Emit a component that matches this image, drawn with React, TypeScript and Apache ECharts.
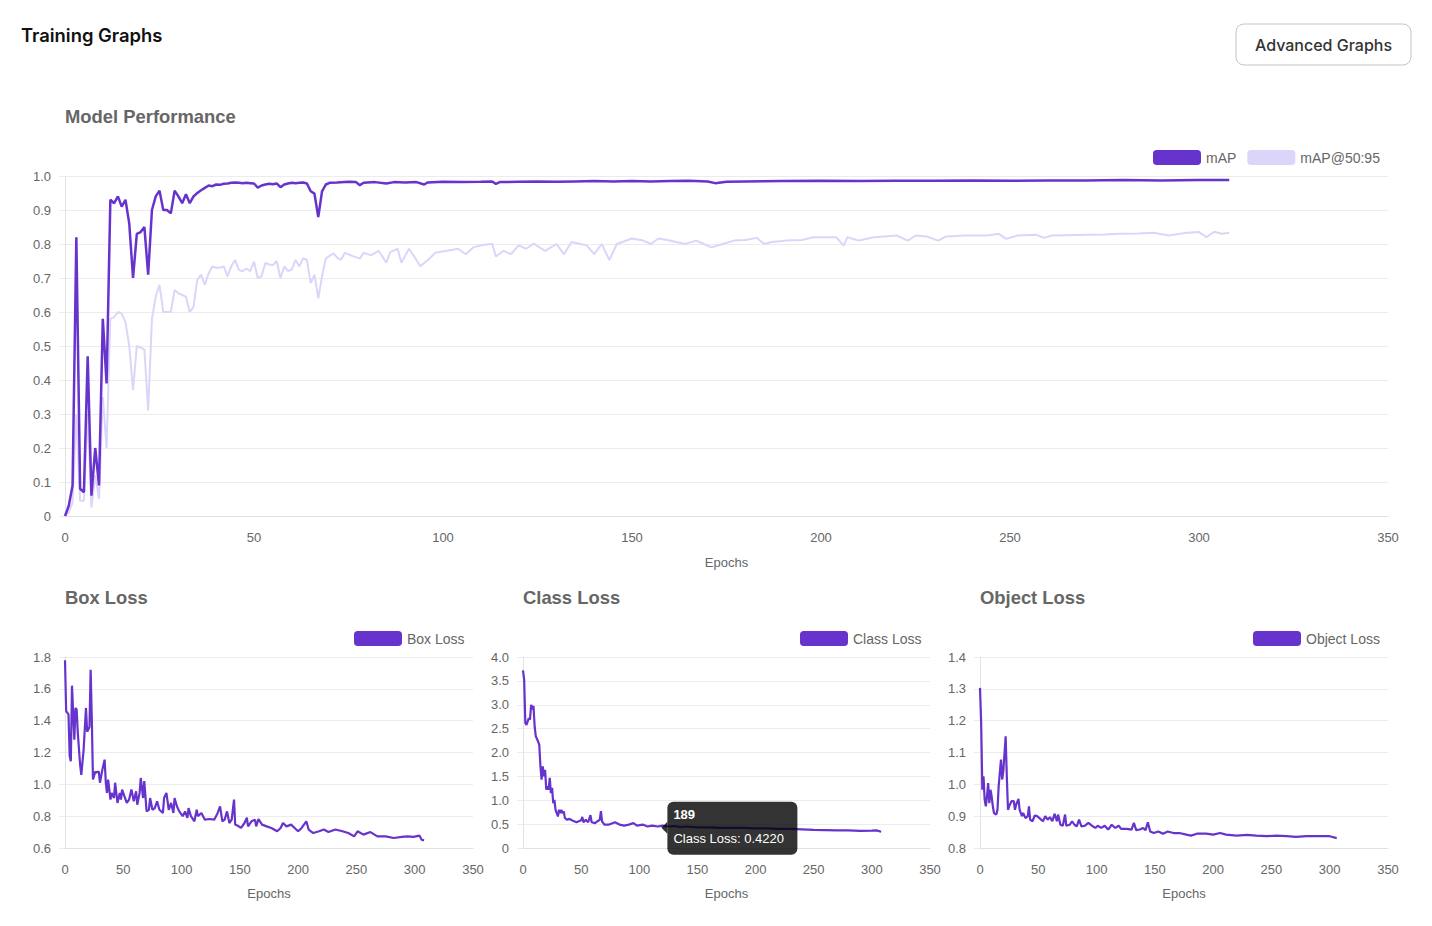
import React, { useEffect, useRef } from "react";
import * as echarts from "echarts";

type P = [number, number];

const epochTicks = { min: 0, max: 350, interval: 50 };

const mapData: P[] = [
  [0, 0], [1, 0.03], [2, 0.09], [3, 0.82], [4, 0.08], [5, 0.07], [6, 0.47], [7, 0.06], [8, 0.2], [9, 0.09],
  [10, 0.58], [11, 0.39], [12, 0.93], [13, 0.92], [14, 0.94], [15, 0.91], [16, 0.93], [17, 0.86], [18, 0.7],
  [19, 0.83], [20, 0.835], [21, 0.85], [22, 0.71], [23, 0.9], [24, 0.94], [25, 0.957], [26, 0.9], [27, 0.9],
  [28, 0.89], [29, 0.957], [30, 0.94], [31, 0.92], [32, 0.946], [33, 0.92], [34, 0.94], [35, 0.95], [36, 0.958],
  [37, 0.965], [38, 0.972], [39, 0.97], [40, 0.975], [41, 0.974], [42, 0.977], [43, 0.978], [44, 0.98],
  [45, 0.981], [46, 0.98], [47, 0.979], [48, 0.98], [49, 0.979], [50, 0.978], [51, 0.966], [52, 0.972],
  [53, 0.975], [54, 0.977], [55, 0.976], [56, 0.978], [57, 0.967], [58, 0.975], [59, 0.978], [60, 0.98],
  [61, 0.979], [62, 0.98], [63, 0.981], [64, 0.978], [65, 0.955], [66, 0.948], [67, 0.879], [68, 0.955],
  [69, 0.975], [70, 0.98], [72, 0.981], [75, 0.983], [77, 0.982], [78, 0.973], [79, 0.98], [82, 0.982],
  [85, 0.978], [87, 0.982], [90, 0.981], [93, 0.982], [95, 0.975], [96, 0.981], [100, 0.983], [105, 0.982],
  [110, 0.983], [113, 0.984], [114, 0.977], [115, 0.982], [120, 0.983], [125, 0.984], [130, 0.983],
  [135, 0.984], [140, 0.985], [145, 0.984], [150, 0.985], [155, 0.984], [160, 0.985], [165, 0.986],
  [170, 0.984], [172, 0.979], [175, 0.983], [180, 0.984], [190, 0.985], [200, 0.986], [210, 0.985],
  [220, 0.986], [230, 0.986], [240, 0.987], [250, 0.986], [260, 0.987], [270, 0.987], [280, 0.988],
  [290, 0.987], [300, 0.988], [308, 0.988],
];

const map5095Data: P[] = [
  [0, 0], [1, 0.01], [2, 0.04], [3, 0.3], [4, 0.045], [5, 0.045], [6, 0.3], [7, 0.025], [8, 0.12], [9, 0.05],
  [10, 0.35], [11, 0.2], [12, 0.58], [13, 0.585], [14, 0.6], [15, 0.595], [16, 0.57], [17, 0.5], [18, 0.37],
  [19, 0.5], [20, 0.495], [21, 0.49], [22, 0.31], [23, 0.58], [24, 0.645], [25, 0.68], [26, 0.6], [27, 0.6],
  [28, 0.6], [29, 0.665], [30, 0.655], [31, 0.65], [32, 0.645], [33, 0.6], [34, 0.615], [35, 0.695],
  [36, 0.71], [37, 0.68], [38, 0.714], [39, 0.734], [40, 0.73], [41, 0.73], [42, 0.734], [43, 0.705],
  [44, 0.735], [45, 0.753], [46, 0.724], [47, 0.72], [48, 0.728], [49, 0.72], [50, 0.748], [51, 0.7],
  [52, 0.705], [53, 0.744], [54, 0.74], [55, 0.738], [56, 0.75], [57, 0.7], [58, 0.734], [59, 0.72],
  [60, 0.725], [61, 0.753], [62, 0.734], [63, 0.758], [64, 0.753], [65, 0.685], [66, 0.71], [67, 0.64],
  [68, 0.705], [69, 0.758], [70, 0.765], [71, 0.772], [72, 0.76], [73, 0.753], [74, 0.774], [76, 0.765],
  [78, 0.757], [79, 0.774], [81, 0.767], [83, 0.78], [85, 0.745], [86, 0.776], [88, 0.786], [89, 0.745],
  [91, 0.786], [92, 0.77], [94, 0.735], [96, 0.753], [98, 0.774], [101, 0.78], [104, 0.786], [106, 0.77],
  [108, 0.79], [110, 0.796], [113, 0.801], [114, 0.763], [116, 0.78], [118, 0.77], [120, 0.796],
  [122, 0.786], [124, 0.801], [127, 0.78], [130, 0.8], [132, 0.77], [134, 0.806], [138, 0.796], [140, 0.77],
  [142, 0.8], [144, 0.753], [146, 0.8], [150, 0.816], [153, 0.81], [155, 0.8], [157, 0.816], [160, 0.81],
  [164, 0.8], [167, 0.81], [169, 0.8], [171, 0.79], [174, 0.8], [177, 0.81], [180, 0.812], [183, 0.818],
  [185, 0.8], [187, 0.806], [191, 0.81], [195, 0.812], [198, 0.82], [200, 0.82], [204, 0.82], [206, 0.795],
  [207, 0.82], [210, 0.81], [214, 0.82], [220, 0.825], [223, 0.81], [225, 0.825], [228, 0.822], [231, 0.81],
  [233, 0.822], [238, 0.825], [244, 0.825], [247, 0.83], [249, 0.815], [252, 0.825], [257, 0.827],
  [259, 0.818], [261, 0.825], [265, 0.826], [270, 0.827], [275, 0.828], [279, 0.83], [284, 0.831],
  [288, 0.833], [292, 0.825], [296, 0.832], [300, 0.835], [302, 0.82], [304, 0.836], [306, 0.83], [308, 0.833],
];

const boxLossData: P[] = [
  [0, 1.78], [1, 1.46], [3, 1.44], [4, 1.18], [5, 1.145], [6, 1.62], [8, 1.28], [9, 1.48], [10, 1.47],
  [11, 1.32], [13, 1.12], [14, 1.06], [16, 1.22], [18, 1.48], [19, 1.33], [21, 1.36], [22, 1.72], [23, 1.41],
  [24, 1.03], [26, 1.08], [27, 1.075], [29, 1.08], [30, 1.01], [32, 1.09], [34, 1.155], [35, 1.01],
  [36, 0.946], [37, 1.03], [39, 0.904], [40, 0.946], [42, 0.914], [43, 1.01], [45, 0.883], [47, 0.946],
  [48, 0.904], [49, 0.967], [51, 0.925], [53, 0.883], [55, 0.904], [57, 0.967], [59, 0.893], [61, 0.956],
  [62, 0.872], [64, 0.946], [65, 1.04], [67, 0.914], [68, 1.02], [70, 0.83], [72, 0.84], [73, 0.914],
  [75, 0.84], [77, 0.851], [79, 0.893], [81, 0.84], [84, 0.82], [85, 0.914], [87, 0.946], [89, 0.84],
  [91, 0.883], [93, 0.82], [94, 0.914], [96, 0.862], [98, 0.83], [101, 0.8], [103, 0.83], [105, 0.79],
  [106, 0.851], [108, 0.8], [111, 0.768], [113, 0.84], [114, 0.8], [117, 0.82], [120, 0.778], [124, 0.782],
  [128, 0.778], [131, 0.82], [133, 0.862], [135, 0.768], [137, 0.778], [139, 0.83], [141, 0.757],
  [143, 0.778], [145, 0.904], [146, 0.747], [149, 0.736], [151, 0.726], [154, 0.757], [156, 0.79],
  [157, 0.736], [160, 0.768], [163, 0.778], [164, 0.736], [166, 0.782], [169, 0.747], [173, 0.736],
  [177, 0.726], [182, 0.705], [185, 0.726], [187, 0.757], [190, 0.736], [194, 0.747], [197, 0.726],
  [200, 0.705], [203, 0.726], [207, 0.768], [209, 0.716], [213, 0.694], [218, 0.705], [222, 0.716],
  [226, 0.7], [232, 0.716], [238, 0.705], [243, 0.694], [248, 0.673], [251, 0.705], [256, 0.684],
  [262, 0.7], [268, 0.673], [275, 0.673], [282, 0.663], [289, 0.67], [294, 0.673], [299, 0.67],
  [304, 0.678], [306, 0.652], [308, 0.648],
];

const classLossData: P[] = [
  [0, 3.72], [1, 3.52], [2, 2.62], [3, 2.58], [5, 2.72], [6, 2.69], [7, 3.0], [8, 2.9], [9, 2.98], [10, 2.55],
  [11, 2.34], [13, 2.23], [14, 2.16], [15, 1.71], [16, 1.43], [17, 1.71], [18, 1.5], [19, 1.64], [20, 1.22],
  [21, 1.29], [22, 1.22], [23, 1.47], [24, 1.15], [25, 1.26], [26, 0.94], [27, 1.01], [28, 0.8], [29, 0.73],
  [30, 0.66], [31, 0.8], [32, 0.73], [33, 0.8], [34, 0.73], [35, 0.77], [36, 0.63], [38, 0.59], [40, 0.61],
  [42, 0.58], [44, 0.56], [46, 0.54], [48, 0.56], [50, 0.58], [51, 0.65], [52, 0.54], [54, 0.59], [56, 0.54],
  [58, 0.69], [59, 0.54], [62, 0.52], [64, 0.56], [66, 0.59], [67, 0.77], [68, 0.56], [70, 0.49], [74, 0.49],
  [77, 0.52], [79, 0.54], [83, 0.49], [87, 0.47], [91, 0.49], [95, 0.52], [98, 0.47], [103, 0.49],
  [107, 0.45], [111, 0.47], [116, 0.45], [120, 0.47], [125, 0.45], [130, 0.46], [135, 0.44], [140, 0.45],
  [145, 0.44], [150, 0.43], [160, 0.43], [170, 0.42], [180, 0.42], [189, 0.422], [200, 0.41], [210, 0.41],
  [220, 0.4], [230, 0.4], [240, 0.39], [250, 0.38], [260, 0.375], [270, 0.37], [280, 0.37], [290, 0.36],
  [300, 0.365], [304, 0.37], [308, 0.34],
];

const objectLossData: P[] = [
  [0, 1.303], [1, 1.193], [2, 0.983], [3, 1.025], [4, 0.952], [5, 0.931], [6, 0.962], [7, 1.004], [8, 0.941],
  [9, 0.983], [10, 0.962], [11, 0.931], [12, 0.91], [14, 0.905], [15, 0.92], [16, 0.994], [18, 1.078],
  [19, 1.015], [20, 1.041], [22, 1.151], [23, 1.025], [24, 0.92], [25, 0.931], [27, 0.947], [29, 0.947],
  [30, 0.92], [31, 0.936], [33, 0.954], [34, 0.92], [36, 0.9], [37, 0.91], [39, 0.894], [41, 0.9],
  [42, 0.931], [43, 0.889], [45, 0.884], [47, 0.902], [49, 0.9], [51, 0.894], [54, 0.884], [56, 0.9],
  [58, 0.889], [60, 0.897], [62, 0.884], [64, 0.907], [66, 0.884], [67, 0.905], [69, 0.873], [71, 0.87],
  [73, 0.905], [74, 0.87], [77, 0.873], [79, 0.884], [81, 0.873], [83, 0.868], [85, 0.889], [87, 0.868],
  [90, 0.87], [93, 0.879], [96, 0.87], [99, 0.863], [101, 0.87], [104, 0.863], [107, 0.87], [110, 0.858],
  [113, 0.873], [116, 0.863], [119, 0.87], [121, 0.86], [126, 0.86], [130, 0.858], [132, 0.879],
  [134, 0.856], [137, 0.858], [140, 0.863], [142, 0.856], [144, 0.881], [146, 0.852], [149, 0.847],
  [153, 0.852], [157, 0.845], [161, 0.852], [166, 0.847], [171, 0.847], [177, 0.842], [181, 0.839],
  [186, 0.845], [194, 0.845], [200, 0.842], [206, 0.847], [211, 0.842], [220, 0.839], [229, 0.841],
  [237, 0.839], [246, 0.837], [254, 0.839], [263, 0.837], [271, 0.835], [280, 0.837], [291, 0.837],
  [300, 0.837], [306, 0.831],
];

const tooltipTitle = "189";
const tooltipLabel = "Class Loss: 0.4220";
const tooltipAnchor: P = [119, 0.422];

const DARK = "#6633cc";
const LIGHT = "#dcd5fa";
const AXIS_FONT = "'Liberation Sans', Arial, Helvetica, sans-serif";
const UI_FONT = "Inter, 'Liberation Sans', Arial, sans-serif";

function xAxis(gridIndex: number, nameGap: number) {
  return {
    type: "value",
    gridIndex,
    ...epochTicks,
    name: "Epochs",
    nameLocation: "middle",
    nameGap,
    nameTextStyle: { color: "#666", fontSize: 13, fontFamily: AXIS_FONT },
    axisLine: { show: true, lineStyle: { color: "#e2e2e2", width: 1 } },
    axisTick: { show: false },
    splitLine: { show: false },
    axisLabel: { color: "#666", fontSize: 13, margin: 15, fontFamily: AXIS_FONT },
  };
}

function yAxis(gridIndex: number, min: number, max: number, interval: number) {
  return {
    type: "value",
    gridIndex,
    min,
    max,
    interval,
    axisLine: { show: true, lineStyle: { color: "#e2e2e2", width: 1 } },
    axisTick: { show: true, length: 6, lineStyle: { color: "#ececec" } },
    splitLine: { show: true, lineStyle: { color: "#ececec", width: 1 } },
    axisLabel: {
      color: "#666",
      fontSize: 13,
      margin: 14,
      fontFamily: AXIS_FONT,
      formatter: (v: number) => (Math.abs(v) < 1e-9 ? "0" : v.toFixed(1)),
    },
  };
}

function legend(name: string[], left: number, top: number) {
  return {
    data: name,
    left,
    top,
    padding: 0,
    icon: "roundRect",
    itemWidth: 48,
    itemHeight: 15,
    itemGap: 11,
    selectedMode: false,
    textStyle: { color: "#666", fontSize: 14, fontFamily: AXIS_FONT },
  };
}

function line(name: string, data: P[], idx: number, color: string, width: number) {
  return {
    type: "line",
    name,
    data,
    xAxisIndex: idx,
    yAxisIndex: idx,
    color,
    showSymbol: false,
    symbol: "none",
    lineStyle: { color, width },
    itemStyle: { color },
  };
}

function sectionTitle(text: string, left: number, top: number) {
  return {
    text,
    left,
    top,
    padding: 0,
    textStyle: { fontSize: 18.4, fontWeight: "bold", color: "#666", fontFamily: AXIS_FONT },
  };
}

export default function App() {
  const ref = useRef<HTMLDivElement>(null);

  useEffect(() => {
    if (!ref.current) return;
    const chart = echarts.init(ref.current, undefined, { renderer: "svg" });
    chart.setOption({
      animation: false,
      backgroundColor: "#ffffff",
      title: [
        {
          text: "Training Graphs",
          left: 21,
          top: 26,
          padding: 0,
          textStyle: { fontSize: 18.4, fontWeight: 600, color: "#111", fontFamily: UI_FONT },
        },
        sectionTitle("Model Performance", 65, 107),
        sectionTitle("Box Loss", 65, 588),
        sectionTitle("Class Loss", 523, 588),
        sectionTitle("Object Loss", 980, 588),
      ],
      legend: [
        legend(["mAP", "mAP@50:95"], 1153, 150),
        legend(["Box Loss"], 354, 631),
        legend(["Class Loss"], 800, 631),
        legend(["Object Loss"], 1253, 631),
      ],
      grid: [
        { left: 65, top: 176, width: 1323, height: 340 },
        { left: 65, top: 657, width: 408, height: 191 },
        { left: 523, top: 657, width: 407, height: 191 },
        { left: 980, top: 657, width: 408, height: 191 },
      ],
      xAxis: [xAxis(0, 40), xAxis(1, 39), xAxis(2, 39), xAxis(3, 39)],
      yAxis: [
        yAxis(0, 0, 1, 0.1),
        yAxis(1, 0.6, 1.8, 0.2),
        yAxis(2, 0, 4, 0.5),
        yAxis(3, 0.8, 1.4, 0.1),
      ],
      series: [
        line("mAP@50:95", map5095Data, 0, LIGHT, 2),
        line("mAP", mapData, 0, DARK, 2.5),
        line("Box Loss", boxLossData, 1, DARK, 2.2),
        line("Class Loss", classLossData, 2, DARK, 2.2),
        line("Object Loss", objectLossData, 3, DARK, 2.2),
      ],
    });

    const p = chart.convertToPixel({ xAxisIndex: 2, yAxisIndex: 2 }, tooltipAnchor) as number[];
    const tipFill = "rgba(0,0,0,0.8)";
    chart.setOption({
      graphic: [
        {
          type: "group",
          id: "button",
          children: [
            {
              type: "rect",
              shape: { x: 1236, y: 24, width: 175, height: 41, r: 8 },
              style: { fill: "#ffffff", stroke: "#c4c4c4", lineWidth: 1 },
            },
            {
              type: "text",
              x: 1323.5,
              y: 45,
              style: {
                text: "Advanced Graphs",
                fill: "#333",
                fontSize: 16,
                fontWeight: 500,
                fontFamily: UI_FONT,
                align: "center",
                verticalAlign: "middle",
              },
            },
          ],
        },
        {
          type: "group",
          id: "tooltip",
          x: p[0],
          y: p[1],
          z: 100,
          children: [
            {
              type: "polygon",
              shape: { points: [[0, 0], [6, -6], [6, 6]] },
              style: { fill: tipFill },
              z: 100,
            },
            {
              type: "rect",
              shape: { x: 6, y: -26, width: 130, height: 53, r: 6 },
              style: { fill: tipFill },
              z: 100,
            },
            {
              type: "text",
              x: 12,
              y: -13,
              z: 101,
              style: {
                text: tooltipTitle,
                fill: "#fff",
                fontSize: 13,
                fontWeight: "bold",
                fontFamily: AXIS_FONT,
                verticalAlign: "middle",
              },
            },
            {
              type: "text",
              x: 12,
              y: 11,
              z: 101,
              style: {
                text: tooltipLabel,
                fill: "#fff",
                fontSize: 13,
                fontFamily: AXIS_FONT,
                verticalAlign: "middle",
              },
            },
          ],
        },
      ],
    });

    return () => chart.dispose();
  }, []);

  return (
    <div
      ref={ref}
      style={{ position: "absolute", left: 0, top: 0, width: 1432, height: 926, background: "#fff" }}
    />
  );
}
